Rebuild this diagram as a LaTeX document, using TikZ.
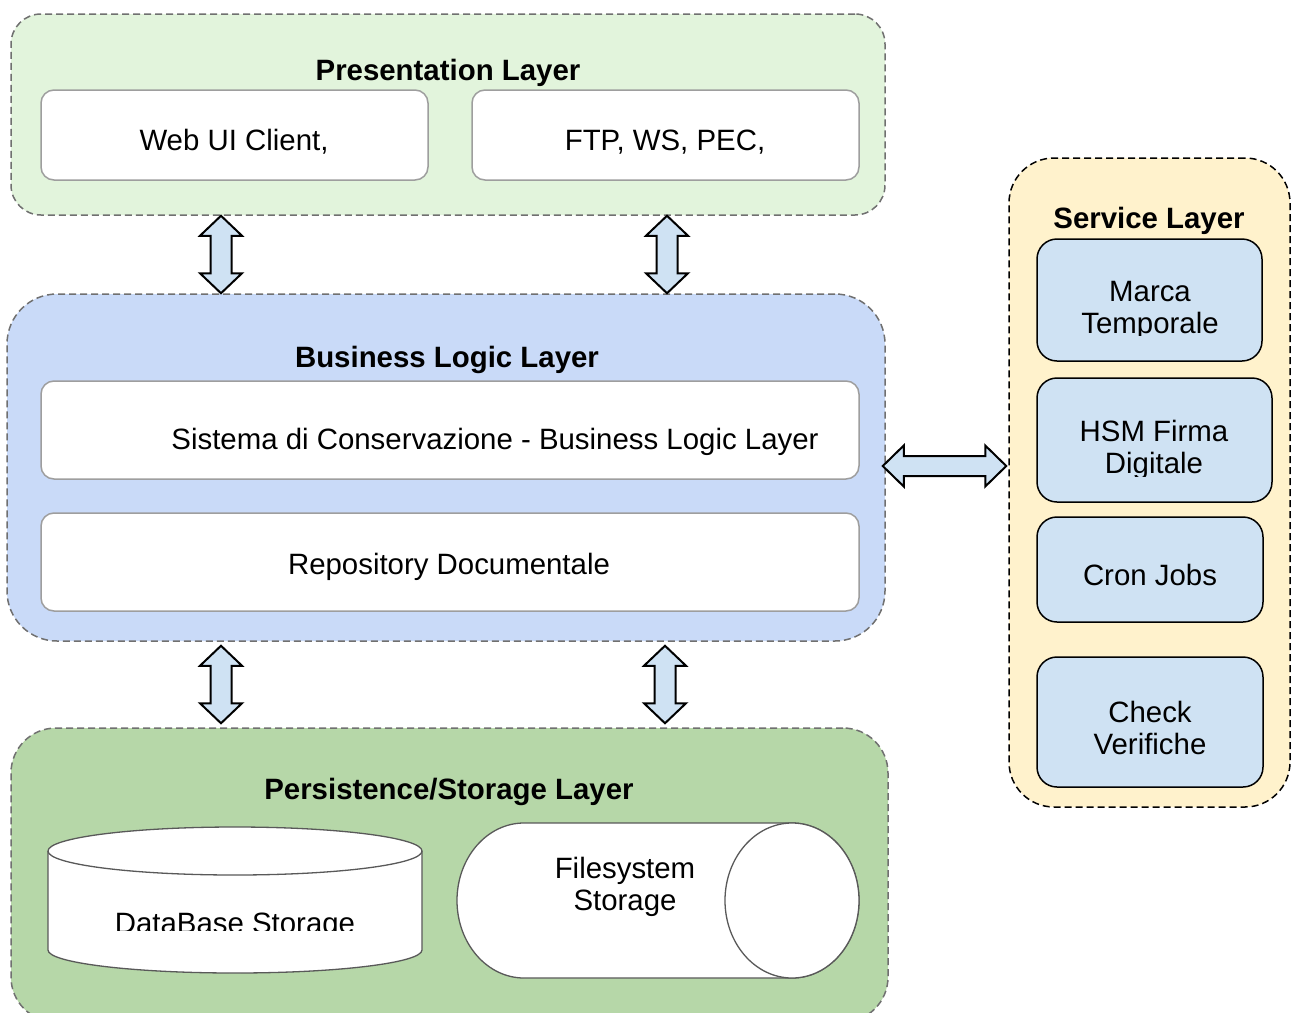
\documentclass[tikz,border=0pt]{standalone}
\usepackage{fontspec}
\setmainfont{Liberation Sans}
\usetikzlibrary{calc}
\definecolor{presfill}{RGB}{226,244,220}
\definecolor{bizfill}{RGB}{201,218,248}
\definecolor{persfill}{RGB}{182,215,168}
\definecolor{servfill}{RGB}{255,242,204}
\definecolor{svcbox}{RGB}{207,226,243}
\definecolor{layergray}{RGB}{112,112,112}
\definecolor{boxgray}{RGB}{158,158,158}
\definecolor{cylgray}{RGB}{89,89,89}
\tikzset{
  layer/.style={draw=layergray, line width=1.5pt, dash pattern=on 7pt off 4pt, inner sep=0pt},
  wbox/.style={draw=boxgray, line width=1.5pt, fill=white, rounded corners=13pt, inner sep=0pt},
  sbox/.style={draw=black, line width=1.5pt, fill=svcbox, rounded corners=20pt, inner sep=0pt},
  ttl/.style={font=\fontsize{29.4}{32}\selectfont\bfseries, inner sep=0pt, anchor=base},
  txt/.style={font=\fontsize{29.4}{32}\selectfont, align=center, inner sep=0pt, anchor=base},
  blk/.style={draw=black, line width=2pt, fill=svcbox, line join=miter},
  cyl/.style={draw=cylgray, line width=1.3pt, fill=white},
}
\newcommand\vblockarrow[2]{%
  \draw[blk] let \p1=(#1), \p2=(#2) in
    (\x1,\y1) -- (\x1+21pt,\y1-20pt) -- (\x1+10.5pt,\y1-20pt) -- (\x1+10.5pt,\y2+20pt)
    -- (\x1+21pt,\y2+20pt) -- (\x1,\y2) -- (\x1-21pt,\y2+20pt) -- (\x1-10.5pt,\y2+20pt)
    -- (\x1-10.5pt,\y1-20pt) -- (\x1-21pt,\y1-20pt) -- cycle;}
\newcommand\hblockarrow[2]{%
  \draw[blk] let \p1=(#1), \p2=(#2) in
    (\x1,\y1) -- (\x1+21pt,\y1+20.5pt) -- (\x1+21pt,\y1+10pt) -- (\x2-21pt,\y1+10pt)
    -- (\x2-21pt,\y1+20.5pt) -- (\x2,\y1) -- (\x2-21pt,\y1-20.5pt) -- (\x2-21pt,\y1-10pt)
    -- (\x1+21pt,\y1-10pt) -- (\x1+21pt,\y1-20.5pt) -- cycle;}
\begin{document}
\begin{tikzpicture}[x=1pt,y=-1pt]
\useasboundingbox (0,0) rectangle (1293,1012);
\clip (0,0) rectangle (1293,1012);
\fill[white] (0,0) rectangle (1293,1012);
% layers
\node[layer, fill=presfill, rounded corners=30pt, minimum width=874pt, minimum height=201pt] (pres) at (448,114.5) {};
\node[layer, fill=bizfill, rounded corners=50pt, minimum width=878pt, minimum height=347pt] (biz) at (446,467.5) {};
\node[layer, fill=persfill, rounded corners=45pt, minimum width=877pt, minimum height=294pt] (pers) at (449.5,875) {};
\node[layer, draw=black, fill=servfill, rounded corners=45pt, minimum width=281pt, minimum height=649pt] (serv) at (1149.5,482.5) {};
% titles
\node[ttl] (prest) at (448,80) {Presentation Layer};
\node[ttl] (bizt) at (447,367) {Business Logic Layer};
\node[ttl] (perst) at (449,799) {Persistence/Storage Layer};
\node[ttl] (servt) at (1149,228) {Service Layer};
% presentation boxes
\node[wbox, minimum width=387pt, minimum height=90pt] (web) at (234.5,135) {};
\node[txt] (webt) at (234,150) {Web UI Client,};
\node[wbox, minimum width=387pt, minimum height=90pt] (ftp) at (665.5,135) {};
\node[txt] (ftpt) at (665,150) {FTP, WS, PEC,};
% business boxes
\node[wbox, minimum width=818pt, minimum height=98pt] (sis) at (450,430) {};
\node[txt] (sist) at (495,449) {Sistema di Conservazione - Business Logic Layer};
\node[wbox, minimum width=818pt, minimum height=98pt] (repo) at (450,562) {};
\node[txt] (repot) at (449,574) {Repository Documentale};
% service boxes
\node[sbox, minimum width=225pt, minimum height=122pt] (marca) at (1149.5,300) {};
\begin{scope}
  \clip (1040,240) rectangle (1260,335);
  \node[txt] (marcat) at (1150,333) {Marca\\Temporale};
\end{scope}
\node[sbox, minimum width=235pt, minimum height=124pt] (hsm) at (1154.5,440) {};
\begin{scope}
  \clip (1040,380) rectangle (1270,476);
  \node[txt] (hsmt) at (1154,473) {HSM Firma\\Digitale};
\end{scope}
\node[sbox, minimum width=226pt, minimum height=105pt] (cron) at (1150,569.5) {};
\node[txt] (cront) at (1150,585) {Cron Jobs};
\node[sbox, minimum width=226pt, minimum height=130pt] (check) at (1150,722) {};
\node[txt] (checkt) at (1150,754) {Check\\Verifiche};
% database cylinder
\draw[cyl] (48,851) -- (48,950) arc[start angle=180, end angle=360, x radius=187pt, y radius=23pt]
  -- (422,851) arc[start angle=0, end angle=180, x radius=187pt, y radius=24pt] -- cycle;
\draw[cyl, fill=none] (422,851) arc[start angle=0, end angle=-180, x radius=187pt, y radius=24pt];
\begin{scope}
  \clip (50,880) rectangle (420,930);
  \node[txt] (dbt) at (235,933) {DataBase Storage};
\end{scope}
% filesystem cylinder
\draw[cyl] (524,823) -- (792,823) arc[start angle=90, end angle=-90, x radius=67pt, y radius=77.5pt]
  -- (524,978) arc[start angle=270, end angle=90, x radius=67pt, y radius=77.5pt] -- cycle;
\draw[cyl] (792,900.5) ellipse[x radius=67pt, y radius=77.5pt];
\node[txt] (fst) at (625,910) {Filesystem\\Storage};
% block arrows
\path (221,0) coordinate (c1) (667,0) coordinate (c2) (665,0) coordinate (c3) (0,466) coordinate (hy);
\vblockarrow{pres.south -| c1}{biz.north -| c1}
\vblockarrow{pres.south -| c2}{biz.north -| c2}
\vblockarrow{$(biz.south -| c1)+(0,4)$}{$(pers.north -| c1)+(0,-4)$}
\vblockarrow{$(biz.south -| c3)+(0,4)$}{$(pers.north -| c3)+(0,-4)$}
\hblockarrow{$(biz.east |- hy)+(-3,0)$}{$(serv.west |- hy)+(-2,0)$}
\end{tikzpicture}
\end{document}
